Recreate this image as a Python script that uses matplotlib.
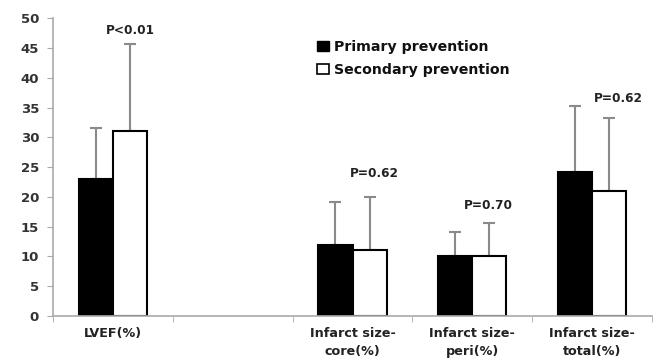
import matplotlib
matplotlib.use("Agg")
import matplotlib.pyplot as plt
import numpy as np
from matplotlib.patches import Patch

categories = ["LVEF(%)", "", "Infarct size-\ncore(%)", "Infarct size-\nperi(%)", "Infarct size-\ntotal(%)"]
primary = [23, None, 12, 10, 24.1]
secondary = [31, None, 11, 10, 21]
primary_err = [8.5, None, 7.1, 4.1, 11.1]
secondary_err = [14.7, None, 8.9, 5.6, 12.2]
p_labels = ["P<0.01", None, "P=0.62", "P=0.70", "P=0.62"]
p_y = [48, None, 24, 18.5, 36.5]
p_dx = [0.15, None, 0.18, 0.13, 0.22]

plt.rcParams['font.family'] = ['DejaVu Sans']

fig = plt.figure(figsize=(6.54, 3.61), dpi=100)
ax = fig.add_axes([0.081, 0.1247, 0.916, 0.825])

w = 0.285
gray = "#8a8a8a"
for i in range(len(categories)):
    if primary[i] is None:
        continue
    ax.bar(i - w/2, primary[i], w, color="black", edgecolor="black", linewidth=1.5, zorder=2)
    ax.bar(i + w/2, secondary[i], w, color="white", edgecolor="black", linewidth=1.5, zorder=2)
    ax.errorbar(i - w/2, primary[i], yerr=[[0], [primary_err[i]]], fmt="none",
                ecolor=gray, elinewidth=1.5, capsize=4.5, capthick=1.5, zorder=1)
    ax.errorbar(i + w/2, secondary[i], yerr=[[0], [secondary_err[i]]], fmt="none",
                ecolor=gray, elinewidth=1.5, capsize=4.5, capthick=1.5, zorder=1)
    ax.text(i + p_dx[i], p_y[i], p_labels[i], ha="center", va="center",
            fontsize=8.7, fontweight="bold", color="#222222")

ax.set_xlim(-0.5, 4.5)
ax.set_ylim(0, 50)
ax.set_yticks(np.arange(0, 51, 5))
ax.set_xticks(range(len(categories)))
ax.set_xticklabels(categories, fontsize=9.2, fontweight="bold", color="#222222", linespacing=1.45)
ax.set_xticks(np.arange(-0.5, 4.6, 1), minor=True)
ax.tick_params(axis="x", which="major", length=0, pad=8)
ax.tick_params(axis="x", which="minor", length=4, color="#aaaaaa", direction="out")
ax.tick_params(axis="y", length=4, color="#aaaaaa", labelsize=9.5, labelcolor="#333333", pad=6)
for lbl in ax.get_yticklabels():
    lbl.set_fontweight("bold")
for s in ["top", "right"]:
    ax.spines[s].set_visible(False)
for s in ["left", "bottom"]:
    ax.spines[s].set_color("#aaaaaa")
    ax.spines[s].set_linewidth(1.2)

handles = [Patch(facecolor="black", edgecolor="black", label="Primary prevention"),
           Patch(facecolor="white", edgecolor="black", linewidth=1.2, label="Secondary prevention")]
leg = ax.legend(handles=handles, loc="upper left", bbox_to_anchor=(0.42, 0.97), frameon=False,
                prop={"weight": "bold", "size": 10.2}, handlelength=0.8, handleheight=0.7,
                handletextpad=0.4, labelspacing=0.65)
for t in leg.get_texts():
    t.set_color("#111111")

fig.savefig("out.png", dpi=100)
